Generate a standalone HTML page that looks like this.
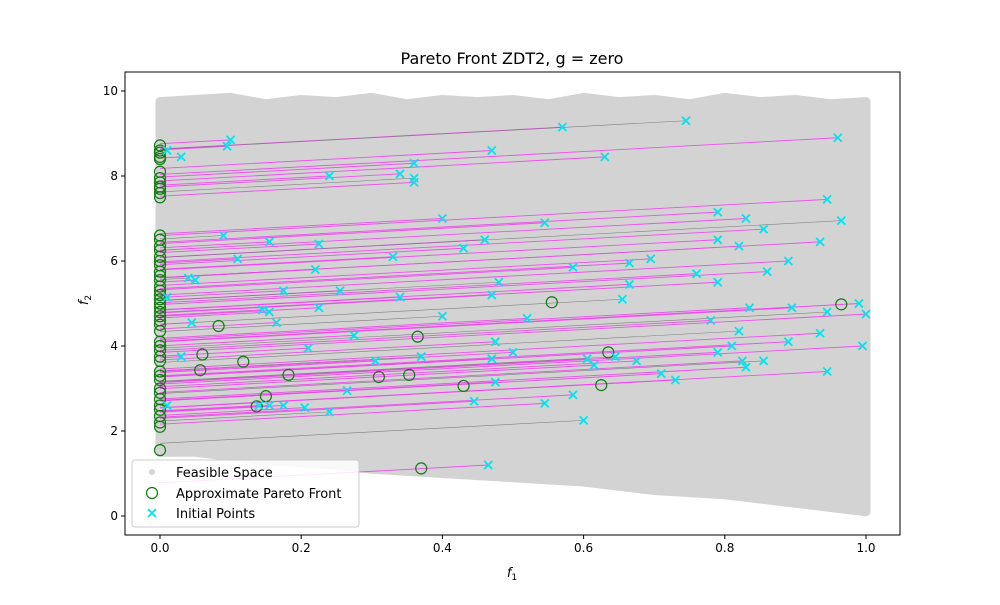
<!DOCTYPE html>
<html><head><meta charset="utf-8">
<style>
body{margin:0;background:#fff;font-family:"Liberation Sans","DejaVu Sans",sans-serif;}
svg text{font-family:"DejaVu Sans","Liberation Sans",sans-serif;}
</style></head>
<body>
<svg id="chart" width="1000" height="600" xmlns="http://www.w3.org/2000/svg">
<rect width="1000" height="600" fill="#fff"/>
<text x="512" y="64" font-size="16" text-anchor="middle">Pareto Front ZDT2, g = zero</text>
<g id="plot"></g>
</svg>
<script>
const feasX=[0,0.05,0.1,0.15,0.2,0.25,0.3,0.35,0.4,0.45,0.5,0.55,0.6,0.65,0.7,0.75,0.8,0.85,0.9,0.95,1.0];
const feasTop=[9.75,9.8,9.85,9.7,9.8,9.75,9.85,9.7,9.8,9.75,9.8,9.7,9.85,9.75,9.8,9.7,9.85,9.75,9.8,9.7,9.75];
const feasBottom=[1.5,1.5,1.4,1.3,1.25,1.2,1.1,1.05,1.0,0.95,0.9,0.85,0.8,0.7,0.6,0.55,0.5,0.4,0.3,0.2,0.1];
const crossX=[0.01,0.03,0.10,0.095,0.24,0.34,0.36,0.36,0.36,0.47,0.57,0.63,0.745,0.96,
0.40,0.545,0.46,0.43,0.09,0.155,0.225,0.11,0.33,0.22,0.04,0.05,0.175,0.255,0.34,0.01,0.48,0.47,0.585,0.665,0.695,0.665,0.655,0.76,0.79,0.79,0.79,0.83,0.82,0.855,0.86,0.935,0.89,0.945,0.965,
0.045,0.145,0.155,0.165,0.225,0.40,0.52,0.275,0.21,0.03,0.305,0.37,0.47,0.475,0.50,0.605,0.615,0.645,0.675,0.71,0.73,0.79,0.81,0.82,0.835,0.78,0.89,0.895,0.935,0.945,0.99,1.0,0.995,0.825,0.83,0.855,
0.01,0.14,0.155,0.175,0.205,0.24,0.265,0.445,0.475,0.545,0.585,0.60,0.465,0.945];
const crossY=[8.6,8.45,8.85,8.7,8.0,8.05,7.95,7.85,8.3,8.6,9.15,8.45,9.3,8.9,
7.0,6.9,6.5,6.3,6.6,6.45,6.4,6.05,6.1,5.8,5.6,5.55,5.3,5.3,5.15,5.15,5.5,5.2,5.85,5.95,6.05,5.45,5.1,5.7,5.5,6.5,7.15,7.0,6.35,6.75,5.75,6.45,6.0,7.45,6.95,
4.55,4.85,4.8,4.55,4.9,4.7,4.65,4.25,3.95,3.75,3.65,3.75,3.7,4.1,3.85,3.7,3.55,3.75,3.65,3.35,3.2,3.85,4.0,4.35,4.9,4.6,4.1,4.9,4.3,4.8,5.0,4.75,4.0,3.65,3.5,3.65,
2.6,2.6,2.6,2.6,2.55,2.45,2.95,2.7,3.15,2.65,2.85,2.25,1.2,3.4];
const circX=[0,0,0,0,0,0,0,0,0,0,0,0,0,0,0,0,0,0,0,0,0,0,0,0,0,0,0,0,0,0,0,0,0,0,0,0,0,0,0,0,0,0,0,0,0,0,0,0,0,0,
0.083,0.06,0.057,0.118,0.182,0.137,0.15,0.31,0.353,0.365,0.43,0.37,0.555,0.635,0.625,0.965];
const circY=[8.72,8.6,8.55,8.45,8.4,8.1,7.95,7.85,7.75,7.7,7.6,7.5,6.6,6.5,6.35,6.25,6.1,6.0,5.9,5.75,5.65,5.55,5.4,5.3,5.2,5.1,5.0,4.9,4.8,4.7,4.6,4.5,4.35,4.1,4.0,3.9,3.75,3.65,3.4,3.3,3.2,3.0,2.9,2.75,2.6,2.5,2.35,2.2,2.1,1.55,
4.47,3.8,3.43,3.63,3.32,2.58,2.82,3.27,3.32,4.22,3.06,1.12,5.03,3.85,3.08,4.98];
const xTicks=[0,0.2,0.4,0.6,0.8,1.0];
const xTickLabels=["0.0","0.2","0.4","0.6","0.8","1.0"];
const yTicks=[0,2,4,6,8,10];
const yTickLabels=["0","2","4","6","8","10"];
const lineSlope=0.9;

const NS="http://www.w3.org/2000/svg";
const L=125,R=900,T=72,B=535;
const sx=v=>160+706*v, sy=v=>516-42.5*v;
const g=document.getElementById('plot');
function mk(t,a,p){const e=document.createElementNS(NS,t);for(const k in a)e.setAttribute(k,a[k]);(p||g).appendChild(e);return e;}

let pts=feasX.map((x,i)=>sx(x)+','+sy(feasTop[i]));
for(let i=feasX.length-1;i>=0;i--)pts.push(sx(feasX[i])+','+sy(feasBottom[i]));
const fr=mk('polygon',{points:pts.join(' '),fill:'#d3d3d3',stroke:'#d3d3d3','stroke-width':9,'stroke-linejoin':'round'});



crossX.forEach((x,i)=>{
  const y0=crossY[i]-lineSlope*x;
  const gray=i%6===0;
  const ln=mk('line',{x1:sx(0),y1:sy(y0),x2:sx(x),y2:sy(crossY[i]),stroke:gray?'#777':'#ee44ee','stroke-width':gray?0.6:0.9,'stroke-opacity':0.9});
  
  
});

circX.forEach((x,i)=>{
  const c=mk('circle',{cx:sx(x),cy:sy(circY[i]),r:5.5,fill:'none',stroke:'#117a11','stroke-width':1.2});
  
  
});
crossX.forEach((x,i)=>{
  const cx=sx(x),cy=sy(crossY[i]),d=4;
  const p=mk('path',{d:`M${cx-d},${cy-d}L${cx+d},${cy+d}M${cx-d},${cy+d}L${cx+d},${cy-d}`,stroke:'#00e5ee','stroke-width':1.8});
  
  
});

const fm=mk('rect',{x:L,y:T,width:R-L,height:B-T,fill:'none',stroke:'#000','stroke-width':1});



xTicks.forEach((v,i)=>{
  const t=mk('line',{x1:sx(v),x2:sx(v),y1:B,y2:B+4,stroke:'#000'});
  
  
  const tx=mk('text',{x:sx(v),y:B+17,'font-size':12,'text-anchor':'middle'});
  tx.textContent=xTickLabels[i];
  
  
});
yTicks.forEach((v,i)=>{
  const t=mk('line',{x1:L-4,x2:L,y1:sy(v),y2:sy(v),stroke:'#000'});
  
  
  const tx=mk('text',{x:L-7,y:sy(v)+4,'font-size':12,'text-anchor':'end'});
  tx.textContent=yTickLabels[i];
  
  
});

const xl=mk('text',{x:512,y:577,'font-size':13,'text-anchor':'middle','font-style':'italic'});
xl.innerHTML='f<tspan font-size="9" dy="3" font-style="normal">1</tspan>';


const yl=mk('text',{x:0,y:0,'font-size':13,'text-anchor':'middle','font-style':'italic',transform:'translate(88,300) rotate(-90)'});
yl.innerHTML='f<tspan font-size="9" dy="3" font-style="normal">2</tspan>';



const lg=mk('g',{});


mk('rect',{x:132,y:460,width:227,height:67,rx:3,fill:'#fff','fill-opacity':0.85,stroke:'#ccc'},lg);
mk('circle',{cx:152,cy:472,r:3,fill:'#d3d3d3'},lg);
mk('circle',{cx:152,cy:493,r:5.5,fill:'none',stroke:'#117a11','stroke-width':1.2},lg);
mk('path',{d:'M148,509L156,517M148,517L156,509',stroke:'#00e5ee','stroke-width':1.8},lg);
[['Feasible Space',477,'legend-feasible'],['Approximate Pareto Front',498,'legend-pareto'],['Initial Points',518,'legend-initial']].forEach(a=>{
  const t=mk('text',{x:176,y:a[1],'font-size':13},lg);
  t.textContent=a[0];
  
  
});
</script>
</body></html>
